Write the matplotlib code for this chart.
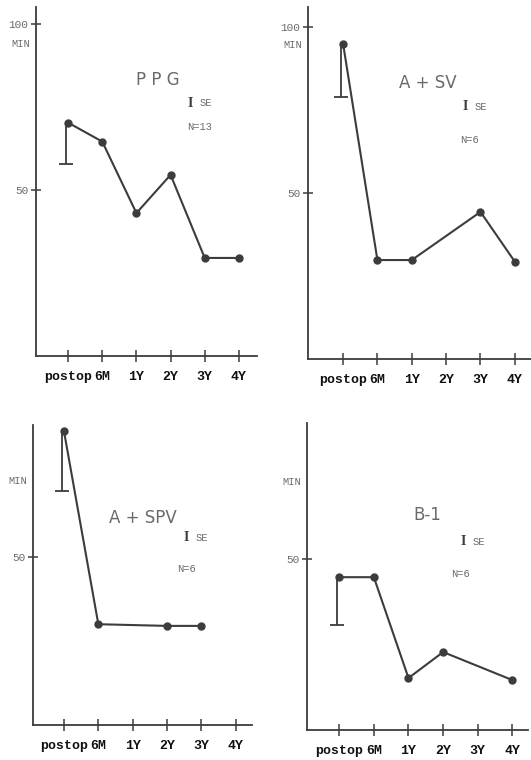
import matplotlib
matplotlib.use("Agg")
import matplotlib.pyplot as plt

# time points along the x axis
periods = ["postop", "6M", "1Y", "2Y", "3Y", "4Y"]

# PPG
ppg_x = ["postop", "6M", "1Y", "2Y", "3Y", "4Y"]
ppg_y = [70.2, 64.5, 43.0, 54.5, 29.5, 29.5]
ppg_se_low = 57.8

# A + SV
asv_x = ["postop", "6M", "1Y", "3Y", "4Y"]
asv_y = [95.0, 29.8, 29.8, 44.3, 29.3]
asv_se_low = 79.0

# A + SPV
aspv_x = ["postop", "6M", "2Y", "3Y"]
aspv_y = [87.5, 30.0, 29.5, 29.5]
aspv_se_low = 69.6

# B-1
b1_x = ["postop", "6M", "1Y", "2Y", "4Y"]
b1_y = [44.7, 44.7, 15.2, 22.8, 14.6]
b1_se_low = 30.7

W, H = 531, 760
fig = plt.figure(figsize=(W / 100, H / 100), dpi=100)

ink = "#3c3c3c"
soft = "#6a6a6a"
mono = ["Liberation Mono", "DejaVu Sans Mono"]


def px_axes(left, right, bottom, top):
    # axes rect from pixel edges (top-left origin)
    return fig.add_axes([left / W, 1 - bottom / H, (right - left) / W, (bottom - top) / H])


def panel(rect, xlim, ylim, names, vals, se_low, yticks, title, title_xy, i_xy, n_txt, n_xy, min_y):
    ax = px_axes(*rect)
    idx = [periods.index(n) for n in names]
    ax.plot(idx, vals, color=ink, lw=1.5, marker="o", ms=5, mfc=ink, mec=ink, zorder=3)
    # one-sided SE bar at postop, cap only at the bottom
    x0 = idx[0] - 0.05
    ax.vlines(x0, se_low, vals[0], color=ink, lw=1.3, zorder=2)
    ax.plot([x0], [se_low], marker="_", ms=10, mew=1.3, color=ink, zorder=2)
    ax.set_xlim(*xlim)
    ax.set_ylim(*ylim)
    for s in ("top", "right"):
        ax.spines[s].set_visible(False)
    for s in ("left", "bottom"):
        ax.spines[s].set_color(ink)
        ax.spines[s].set_linewidth(1.3)
    ax.set_xticks(range(len(periods)))
    ax.set_xticklabels(periods, family=mono, fontweight="bold", fontsize=9.5, color="#111111")
    ax.set_yticks(yticks)
    ax.set_yticklabels([str(t) for t in yticks], family=mono, fontsize=8, color=soft)
    ax.tick_params(axis="x", direction="inout", length=8, width=1.1, color=ink, pad=7)
    ax.tick_params(axis="y", direction="inout", length=7, width=1.1, color=ink, pad=2)
    ax.annotate("MIN", xy=(0, min_y), xycoords=ax.get_yaxis_transform(), xytext=(-4, 0),
                textcoords="offset points", ha="right", va="center",
                family=mono, fontsize=7.5, color=soft)
    ax.text(*title_xy, title, ha="center", va="center", fontsize=12, color=soft,
            family=["Liberation Sans Narrow", "DejaVu Sans"])
    ax.text(*i_xy, "I", ha="center", va="center", fontsize=10, color=ink,
            family=["Liberation Serif", "DejaVu Serif"], fontweight="bold")
    ax.text(i_xy[0] + 0.28, i_xy[1], "SE", ha="left", va="center", fontsize=7.5,
            color=soft, family=mono)
    ax.text(*n_xy, n_txt, ha="left", va="center", fontsize=7.5, color=soft, family=mono)
    return ax


panel((36, 257, 356, 7), (-0.94, 5.53), (0, 105), ppg_x, ppg_y, ppg_se_low, [50, 100],
      "P P G", (2.63, 83), (3.57, 76), "N=13", (3.48, 69), 94)
panel((308, 531, 359, 7), (-1.02, 5.47), (0, 106), asv_x, asv_y, asv_se_low, [50, 100],
      "A + SV", (2.47, 83), (3.55, 76), "N=6", (3.4, 66), 94.5)
panel((33, 252, 725, 425), (-0.9, 5.47), (0, 89.3), aspv_x, aspv_y, aspv_se_low, [50],
      "A + SPV", (2.3, 61.6), (3.55, 55.7), "N=6", (3.28, 46.4), 72.6)
panel((307, 528, 730, 423), (-0.93, 5.45), (0, 89.8), b1_x, b1_y, b1_se_low, [50],
      "B-1", (2.53, 62.9), (3.58, 55), "N=6", (3.23, 45.6), 72.5)

fig.savefig("out.png", dpi=100, facecolor="white")
